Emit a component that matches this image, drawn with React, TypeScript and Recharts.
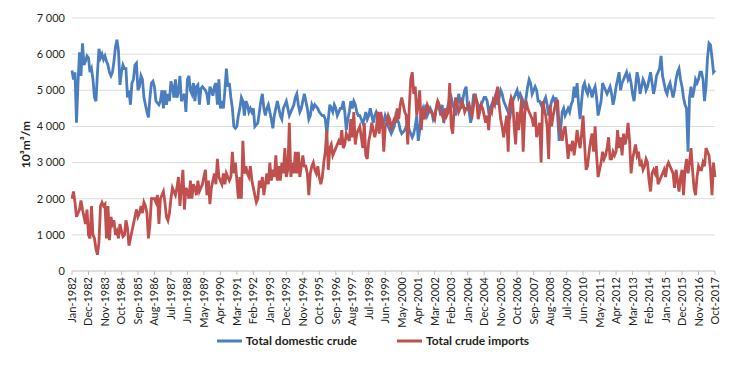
import { LineChart, Line, XAxis, YAxis, CartesianGrid, Legend } from "recharts"

// monthly, Jan-1982 .. Oct-2017
const MONTHS = ["Jan", "Feb", "Mar", "Apr", "May", "Jun", "Jul", "Aug", "Sep", "Oct", "Nov", "Dec"]
const FIRST_YEAR = 1982
const LAST_YEAR = 2017
const LAST_MONTH = 10

const domestic = [
  5550, 5300, 5500, 4100, 5200, 6050, 5400, 6300, 5700, 5800, 5950, 5900, // 1982
  5500, 5600, 5300, 4800, 4700, 5500, 6150, 5900, 6000, 5850, 5950, 5800, // 1983
  5700, 5500, 5400, 5500, 5800, 6200, 6400, 6100, 5150, 5500, 5700, 5600, // 1984
  5600, 4800, 5000, 4600, 5200, 5300, 5700, 5750, 5000, 5100, 5400, 5300, // 1985
  4800, 4600, 4400, 4250, 4800, 5200, 5250, 5100, 4700, 4650, 4600, 4700, // 1986
  5000, 4500, 5000, 4600, 4900, 4700, 5250, 5100, 4800, 5300, 4800, 4950, // 1987
  5400, 4700, 4800, 4900, 4400, 5300, 5400, 5000, 4900, 5200, 4700, 5100, // 1988
  5150, 4600, 5050, 5100, 5050, 5000, 4900, 4600, 5100, 5000, 4850, 5100, // 1989
  5200, 4600, 5300, 4500, 4700, 4500, 5000, 5600, 5100, 5200, 4800, 4500, // 1990
  4000, 3950, 4000, 4300, 4500, 4800, 4700, 4300, 4700, 4600, 4400, 4500, // 1991
  4400, 4500, 4000, 4050, 4100, 4400, 4700, 4900, 4500, 4300, 4500, 4600, // 1992
  4400, 4200, 3950, 4300, 4500, 4700, 4500, 4300, 4200, 4500, 4600, 4700, // 1993
  4500, 4300, 4400, 4500, 4600, 4800, 4900, 4600, 4400, 4500, 4700, 4900, // 1994
  4700, 4500, 4200, 4300, 4600, 4500, 4600, 4550, 4500, 4400, 4350, 4300, // 1995
  4300, 4200, 3800, 4200, 4600, 4500, 4400, 4600, 4500, 4300, 4400, 4500, // 1996
  4500, 4700, 4400, 3900, 4200, 4400, 4700, 4500, 4700, 4600, 4400, 4300, // 1997
  4300, 4200, 4100, 4200, 4400, 4200, 4300, 4500, 4300, 4100, 4300, 4400, // 1998
  4300, 4200, 4100, 4000, 4100, 4300, 4200, 4000, 3900, 3800, 3900, 4000, // 1999
  4300, 4200, 4100, 3900, 3800, 3850, 3900, 4000, 4100, 3900, 3800, 3700, // 2000
  3800, 4000, 4300, 3600, 3900, 4400, 4500, 4200, 4600, 4300, 4400, 4500, // 2001
  4400, 4200, 4300, 4500, 4700, 4500, 4300, 4600, 4100, 4300, 4400, 4600, // 2002
  4700, 4800, 4600, 4500, 4300, 4600, 4900, 4700, 4500, 4800, 5000, 5100, // 2003
  4500, 4400, 4100, 4500, 4900, 4800, 4700, 4600, 4500, 4600, 4700, 4800, // 2004
  4800, 4700, 4400, 4500, 4600, 4700, 4800, 4900, 4600, 4800, 5000, 4900, // 2005
  4700, 4600, 4500, 4400, 4200, 4500, 4700, 4800, 4900, 5000, 4800, 4900, // 2006
  4800, 4700, 4500, 4800, 5100, 5300, 5200, 4900, 5000, 5100, 5000, 4700, // 2007
  4700, 4600, 4500, 4700, 4800, 4600, 4300, 4500, 4700, 4800, 4700, 4800, // 2008
  4300, 3600, 3900, 4400, 4500, 4300, 4400, 4500, 4400, 4600, 4700, 5100, // 2009
  4800, 5200, 4600, 4200, 4700, 5100, 5200, 5000, 4900, 5100, 5000, 4800, // 2010
  5000, 5100, 4800, 4300, 4500, 4700, 5200, 5100, 5000, 4900, 5000, 5100, // 2011
  4900, 4600, 4800, 5100, 5300, 5500, 5000, 5200, 5300, 5400, 5500, 5300, // 2012
  5400, 5200, 4900, 4700, 5100, 5500, 5300, 4900, 5100, 5300, 5200, 5000, // 2013
  5100, 5300, 5500, 5200, 4900, 5100, 5400, 5500, 5600, 5950, 5400, 5200, // 2014
  5000, 4900, 5100, 5200, 5000, 4800, 5000, 5300, 5500, 5600, 5300, 5100, // 2015
  4800, 4600, 4500, 3300, 4800, 5100, 4800, 5000, 5300, 5200, 5300, 5500, // 2016
  5500, 5300, 4700, 5100, 5900, 6300, 6250, 5900, 5500, 5550 // 2017
]

const imports = [
  2000, 2200, 1900, 1500, 1600, 1700, 1950, 1700, 1500, 1300, 1700, 1000, // 1982
  900, 1800, 1000, 900, 600, 450, 800, 1800, 1900, 1800, 1850, 900, // 1983
  1800, 850, 1500, 1300, 1400, 1000, 1100, 900, 1300, 1100, 950, 1000, // 1984
  1400, 1200, 700, 900, 1100, 1300, 1500, 1700, 1500, 1600, 1800, 1600, // 1985
  1900, 1800, 1600, 900, 1300, 2000, 2000, 2000, 1900, 2100, 1300, 2000, // 1986
  2100, 2200, 1900, 1500, 1400, 1600, 2000, 2300, 2200, 2100, 2300, 2600, // 1987
  1800, 2300, 2800, 1700, 2300, 2200, 2000, 2500, 2000, 2400, 2300, 2100, // 1988
  2500, 2200, 2300, 2400, 2600, 2800, 2100, 2500, 1850, 2300, 2500, 2700, // 1989
  2400, 3100, 2600, 2500, 2400, 2700, 2400, 2700, 2600, 2500, 2600, 3300, // 1990
  2700, 3000, 2500, 2000, 2600, 2000, 3600, 2700, 2900, 2700, 2600, 2900, // 1991
  2500, 2300, 2100, 1900, 2000, 2500, 2300, 2600, 2100, 2400, 2700, 2400, // 1992
  3000, 2500, 2800, 2600, 3200, 2500, 2900, 2500, 3000, 2700, 3400, 2600, // 1993
  2800, 4100, 2600, 3000, 2700, 3300, 2700, 3300, 2600, 2900, 3200, 2900, // 1994
  2900, 2700, 2100, 2700, 2900, 3000, 2800, 2700, 2900, 2600, 2400, 2600, // 1995
  3000, 3300, 3900, 2800, 3400, 3500, 3200, 3300, 3400, 3500, 3600, 3500, // 1996
  3900, 3400, 3500, 3800, 3700, 3600, 4200, 3700, 4400, 3500, 3800, 3900, // 1997
  4000, 3700, 3400, 4100, 3200, 3100, 3600, 3800, 4100, 3900, 3700, 3900, // 1998
  4400, 3800, 4400, 4200, 3300, 4000, 4100, 4300, 4200, 3900, 4100, 4200, // 1999
  4100, 4500, 4200, 4600, 4800, 4600, 4400, 4300, 3500, 4500, 5300, 5500, // 2000
  4900, 5100, 4300, 4600, 5000, 3900, 4500, 4200, 4400, 4600, 4500, 4400, // 2001
  4400, 4300, 4200, 4500, 4700, 4600, 4400, 4300, 4200, 4500, 4300, 4400, // 2002
  5200, 4000, 3800, 4500, 4800, 4600, 4400, 4500, 4700, 4600, 4400, 4500, // 2003
  4500, 4600, 4400, 4300, 4600, 4900, 4700, 4200, 4400, 4600, 4500, 4300, // 2004
  4100, 4300, 3900, 4500, 4400, 4700, 4600, 4900, 5100, 4600, 4200, 4000, // 2005
  3700, 4000, 4300, 3300, 4600, 4800, 4700, 4000, 3500, 4400, 3900, 4300, // 2006
  4800, 3300, 4300, 4700, 4500, 4400, 4300, 4200, 4000, 4400, 3700, 3900, // 2007
  4100, 3000, 4700, 4500, 4300, 4000, 3100, 4600, 4000, 4300, 4500, 4700, // 2008
  4700, 4000, 3800, 3600, 3900, 4000, 3600, 3100, 3500, 3400, 3600, 3200, // 2009
  3500, 3900, 3600, 3400, 3800, 4300, 3500, 2800, 2900, 3300, 3600, 3800, // 2010
  3300, 4000, 3200, 2600, 2800, 3000, 3300, 3100, 3200, 3400, 3700, 3100, // 2011
  3100, 3300, 3200, 3300, 3900, 3400, 3700, 3200, 3800, 3500, 3700, 4100, // 2012
  3600, 2700, 3100, 3300, 3500, 3200, 3300, 2900, 3000, 2800, 2900, 3100, // 2013
  3000, 2500, 2200, 2700, 2800, 2700, 2900, 2400, 2500, 2600, 2700, 2800, // 2014
  2600, 2900, 3000, 2900, 2800, 2700, 2300, 2800, 2500, 2200, 2600, 2800, // 2015
  2100, 2800, 3100, 2700, 3000, 3400, 2800, 2300, 2100, 2600, 2900, 2800, // 2016
  2800, 3000, 2900, 3400, 3300, 3200, 2800, 2100, 3000, 2600 // 2017
]

const yTicks = [0, 1000, 2000, 3000, 4000, 5000, 6000, 7000]

const labels: string[] = []
for (let y = FIRST_YEAR; y <= LAST_YEAR; y++) {
  for (let m = 0; m < 12; m++) {
    if (y === LAST_YEAR && m >= LAST_MONTH) break
    labels.push(`${MONTHS[m]}-${y}`)
  }
}

const data = labels.map((month, i) => ({
  month,
  domestic: domestic[i],
  imports: imports[i]
}))

const BLUE = "#4a7ebf"
const RED = "#c0504d"
const TEXT = "#231f20"
const FONT = "Lato, 'Open Sans', sans-serif"

const fmtY = (v: number) => (v >= 1000 ? `${Math.floor(v / 1000)} ${String(v % 1000).padStart(3, "0")}` : String(v))

function MonthTick(props: any) {
  const { x, y, payload } = props
  return (
    <g transform={`translate(${x},${y})`}>
      <text
        transform="rotate(-90)"
        textAnchor="end"
        x={0}
        y={0}
        dy={4}
        fill={TEXT}
        fontSize={11}
        fontFamily={FONT}
      >
        {payload.value}
      </text>
    </g>
  )
}

function LegendBox() {
  const items = [
    { name: "Total domestic crude", color: BLUE },
    { name: "Total crude imports", color: RED }
  ]
  return (
    <div style={{ display: "flex", justifyContent: "center", paddingLeft: 6, fontFamily: FONT }}>
      {items.map((it, k) => (
        <div key={it.name} style={{ display: "flex", alignItems: "center", marginRight: k === 0 ? 40 : 0 }}>
          <svg width={25} height={12} style={{ marginRight: 4 }}>
            <line x1={0} y1={6} x2={25} y2={6} stroke={it.color} strokeWidth={3} />
          </svg>
          <span style={{ fontSize: 12, fontWeight: 700, color: TEXT }}>{it.name}</span>
        </div>
      ))}
    </div>
  )
}

export default function App() {
  return (
    <div style={{ width: 740, height: 367, background: "#fff" }}>
      <style>{"body{margin:0}"}</style>
      <LineChart width={740} height={367} data={data} margin={{ top: 18, right: 25, left: 8, bottom: 0 }}>
        <CartesianGrid stroke="#dcdcdc" vertical={false} />
        <XAxis
          dataKey="month"
          interval={10}
          tick={<MonthTick />}
          tickSize={4}
          tickMargin={2}
          tickLine={{ stroke: "#bfbfbf" }}
          axisLine={{ stroke: "#d0d0d0" }}
          height={62}
        />
        <YAxis
          domain={[0, 7000]}
          ticks={yTicks}
          tickFormatter={fmtY}
          axisLine={false}
          tickLine={false}
          tickMargin={1}
          width={64}
          tick={{ fill: TEXT, fontSize: 11, fontFamily: FONT }}
          label={{
            value: "10³m³/m",
            angle: -90,
            position: "insideLeft",
            offset: 18,
            fill: TEXT,
            fontSize: 12,
            fontWeight: 700,
            fontFamily: FONT,
            style: { textAnchor: "middle" }
          }}
        />
        <Legend verticalAlign="bottom" height={34} content={<LegendBox />} wrapperStyle={{ left: 0, width: 740 }} />
        <Line
          type="linear"
          dataKey="domestic"
          name="Total domestic crude"
          stroke={BLUE}
          strokeWidth={2.8}
          dot={false}
          isAnimationActive={false}
        />
        <Line
          type="linear"
          dataKey="imports"
          name="Total crude imports"
          stroke={RED}
          strokeWidth={2.8}
          dot={false}
          isAnimationActive={false}
        />
      </LineChart>
    </div>
  )
}
